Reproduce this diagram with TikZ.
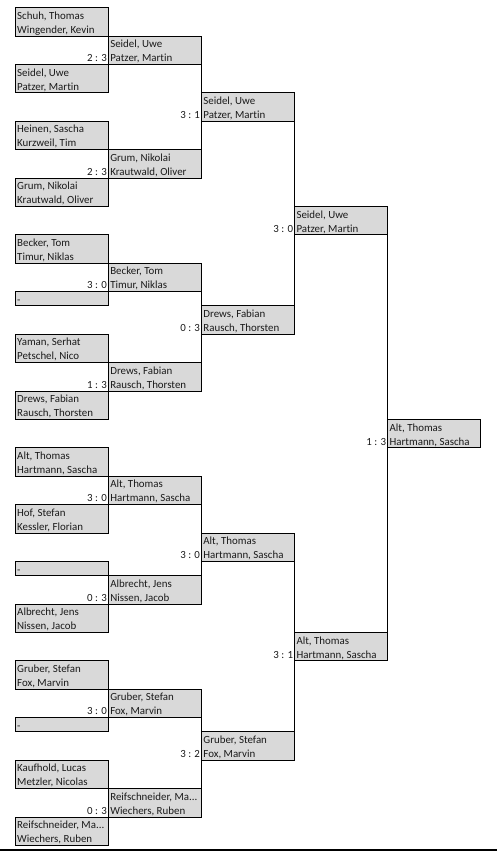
\documentclass[tikz,border=0pt]{standalone}
\usepackage{fontspec}
\setmainfont{Carlito}[Ligatures=NoCommon]
\usetikzlibrary{positioning}
\definecolor{boxgray}{HTML}{D9D9D9}
\definecolor{txt}{HTML}{1A1A1A}
\tikzset{
  bracketbox/.style={draw=black, line width=0.9pt, fill=boxgray, rectangle, inner sep=0pt, outer sep=0pt,
    minimum width=93.1pt, anchor=north west},
  nametext/.style={anchor=base west, inner sep=0pt, font=\fontsize{10.9}{12}\selectfont, text=txt},
  scoretext/.style={anchor=base east, inner sep=0pt, font=\fontsize{10.9}{12}\selectfont, text=txt},
  link/.style={draw=black, line width=0.9pt}
}
% name, col, row, line1, line2
\newcommand\bxtwo[5]{%
  \node[bracketbox, minimum height=28.4pt] (#1) at ({15+93.1*(#2-1)},{-(7.7+14.2*#3)}) {};
  \node[nametext] (#1-l1) at ([shift={(2pt,-11.6pt)}]#1.north west) {#4};
  \node[nametext] (#1-l2) at ([shift={(2pt,-25.6pt)}]#1.north west) {#5};
}
\newcommand\bxone[4]{%
  \node[bracketbox, minimum height=14.2pt] (#1) at ({15+93.1*(#2-1)},{-(7.7+14.2*#3)}) {};
  \node[nametext] (#1-l1) at ([shift={(2pt,-11.6pt)}]#1.north west) {#4};
}
\begin{document}
\begin{tikzpicture}[x=1pt,y=1pt]
\useasboundingbox (0,0) rectangle (497,-852);
% column 1
\bxtwo{a1}{1}{0}{Schuh, Thomas}{Wingender, Kevin}
\bxtwo{a2}{1}{4}{Seidel, Uwe}{Patzer, Martin}
\bxtwo{a3}{1}{8}{Heinen, Sascha}{Kurzweil, Tim}
\bxtwo{a4}{1}{12}{Grum, Nikolai}{Krautwald, Oliver}
\bxtwo{a5}{1}{16}{Becker, Tom}{Timur, Niklas}
\bxone{a6}{1}{20}{-}
\bxtwo{a7}{1}{23}{Yaman, Serhat}{Petschel, Nico}
\bxtwo{a8}{1}{27}{Drews, Fabian}{Rausch, Thorsten}
\bxtwo{a9}{1}{31}{Alt, Thomas}{Hartmann, Sascha}
\bxtwo{a10}{1}{35}{Hof, Stefan}{Kessler, Florian}
\bxone{a11}{1}{39}{-}
\bxtwo{a12}{1}{42}{Albrecht, Jens}{Nissen, Jacob}
\bxtwo{a13}{1}{46}{Gruber, Stefan}{Fox, Marvin}
\bxone{a14}{1}{50}{-}
\bxtwo{a15}{1}{53}{Kaufhold, Lucas}{Metzler, Nicolas}
\bxtwo{a16}{1}{57}{Reifschneider, Ma...}{Wiechers, Ruben}
% column 2
\bxtwo{b1}{2}{2}{Seidel, Uwe}{Patzer, Martin}
\bxtwo{b2}{2}{10}{Grum, Nikolai}{Krautwald, Oliver}
\bxtwo{b3}{2}{18}{Becker, Tom}{Timur, Niklas}
\bxtwo{b4}{2}{25}{Drews, Fabian}{Rausch, Thorsten}
\bxtwo{b5}{2}{33}{Alt, Thomas}{Hartmann, Sascha}
\bxtwo{b6}{2}{40}{Albrecht, Jens}{Nissen, Jacob}
\bxtwo{b7}{2}{48}{Gruber, Stefan}{Fox, Marvin}
\bxtwo{b8}{2}{55}{Reifschneider, Ma...}{Wiechers, Ruben}
% column 3
\bxtwo{c1}{3}{6}{Seidel, Uwe}{Patzer, Martin}
\bxtwo{c2}{3}{21}{Drews, Fabian}{Rausch, Thorsten}
\bxtwo{c3}{3}{37}{Alt, Thomas}{Hartmann, Sascha}
\bxtwo{c4}{3}{51}{Gruber, Stefan}{Fox, Marvin}
% column 4
\bxtwo{d1}{4}{14}{Seidel, Uwe}{Patzer, Martin}
\bxtwo{d2}{4}{44}{Alt, Thomas}{Hartmann, Sascha}
% column 5
\bxtwo{e1}{5}{29}{Alt, Thomas}{Hartmann, Sascha}
% scores
\node[scoretext] (b1-s) at ([shift={(-1pt,-25.6pt)}]b1.north west) {2 : 3};
\node[scoretext] (b2-s) at ([shift={(-1pt,-25.6pt)}]b2.north west) {2 : 3};
\node[scoretext] (b3-s) at ([shift={(-1pt,-25.6pt)}]b3.north west) {3 : 0};
\node[scoretext] (b4-s) at ([shift={(-1pt,-25.6pt)}]b4.north west) {1 : 3};
\node[scoretext] (b5-s) at ([shift={(-1pt,-25.6pt)}]b5.north west) {3 : 0};
\node[scoretext] (b6-s) at ([shift={(-1pt,-25.6pt)}]b6.north west) {0 : 3};
\node[scoretext] (b7-s) at ([shift={(-1pt,-25.6pt)}]b7.north west) {3 : 0};
\node[scoretext] (b8-s) at ([shift={(-1pt,-25.6pt)}]b8.north west) {0 : 3};
\node[scoretext] (c1-s) at ([shift={(-1pt,-25.6pt)}]c1.north west) {3 : 1};
\node[scoretext] (c2-s) at ([shift={(-1pt,-25.6pt)}]c2.north west) {0 : 3};
\node[scoretext] (c3-s) at ([shift={(-1pt,-25.6pt)}]c3.north west) {3 : 0};
\node[scoretext] (c4-s) at ([shift={(-1pt,-25.6pt)}]c4.north west) {3 : 2};
\node[scoretext] (d1-s) at ([shift={(-1pt,-25.6pt)}]d1.north west) {3 : 0};
\node[scoretext] (d2-s) at ([shift={(-1pt,-25.6pt)}]d2.north west) {3 : 1};
\node[scoretext] (e1-s) at ([shift={(-1pt,-25.6pt)}]e1.north west) {1 : 3};
% connectors
\draw[link] (b1.south east) -- (c1.north west);
\draw[link] (c1.south west) -- (b2.north east);
\draw[link] (b3.south east) -- (c2.north west);
\draw[link] (c2.south west) -- (b4.north east);
\draw[link] (b5.south east) -- (c3.north west);
\draw[link] (c3.south west) -- (b6.north east);
\draw[link] (b7.south east) -- (c4.north west);
\draw[link] (c4.south west) -- (b8.north east);
\draw[link] (c1.south east) -- (d1.north west);
\draw[link] (d1.south west) -- (c2.north east);
\draw[link] (c3.south east) -- (d2.north west);
\draw[link] (d2.south west) -- (c4.north east);
\draw[link] (d1.south east) -- (e1.north west);
\draw[link] (e1.south west) -- (d2.north east);
% bottom rule
\coordinate (ruleL) at (0,-850);
\coordinate (ruleR) at (497,-850);
\draw[draw=black, line width=2pt] (ruleL) -- (ruleR);
\end{tikzpicture}
\end{document}
